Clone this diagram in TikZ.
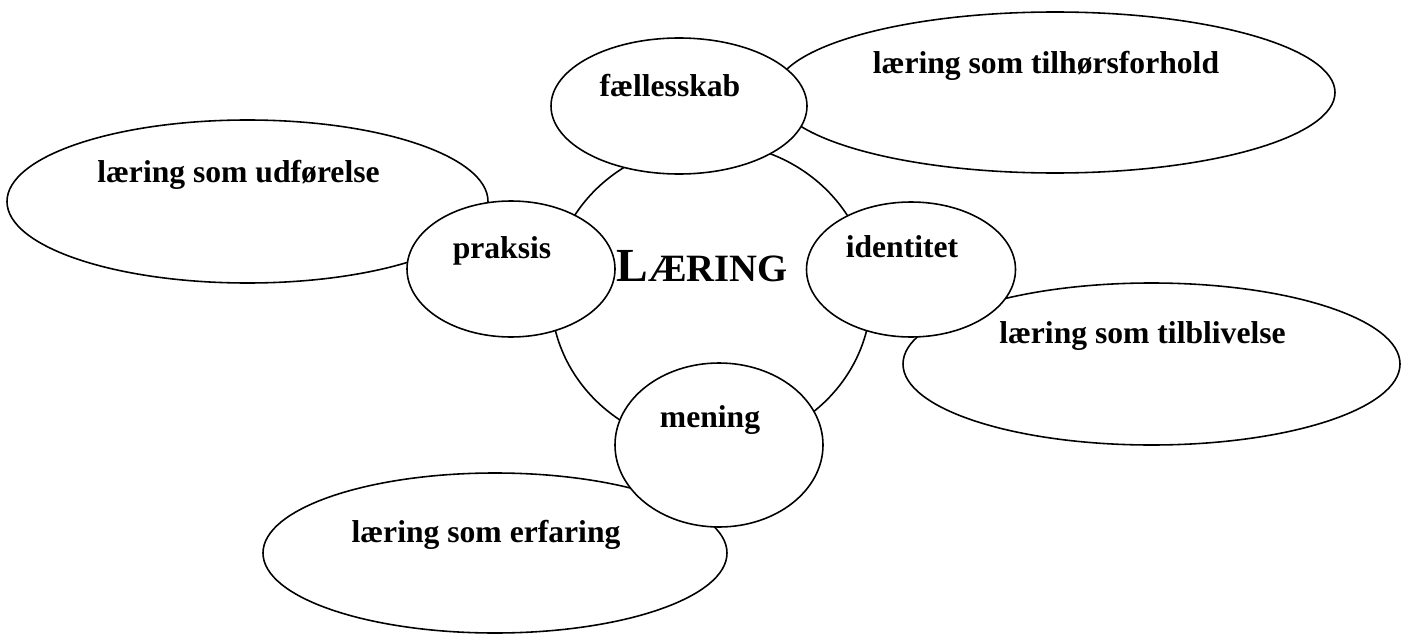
\documentclass[tikz,border=0pt]{standalone}
\usepackage{fontspec}
\setmainfont{Liberation Serif}
\usetikzlibrary{shapes.geometric}
\tikzset{%
    bubble/.style n args={3}{%
        ellipse, draw, fill=white, line width=0.9pt, inner sep=0pt,
        minimum width=#1, minimum height=#2,
        text height=0.5cm, text depth=#3,
        font=\bfseries\fontsize{18}{22}\selectfont,
        execute at end node={\kern0.36cm}
    }
}

\begin{document}
\begin{tikzpicture}

    \useasboundingbox (0, 0) rectangle (28.14, 12.66);

    % The centre
    \node[bubble={6.4cm}{6.08cm}{1.06cm}] (laering) at (14.22, 6.76)
        {\fontsize{27}{32}\selectfont L\fontsize{22}{26}\selectfont ÆRING};

    % Outer ellipses
    \node[bubble={11.2cm}{3.22cm}{1.28cm}] (tilhoer) at (21.10, 10.81)
        {læring som tilhørsforhold};
    \node[bubble={9.62cm}{3.26cm}{1.28cm}] (udfoer) at (4.95, 8.63)
        {læring som udførelse};
    \node[bubble={9.94cm}{3.24cm}{1.34cm}] (tilbliv) at (23.03, 5.38)
        {læring som tilblivelse};
    \node[bubble={9.28cm}{3.2cm}{0.94cm}] (erfar) at (9.90, 1.60)
        {læring som erfaring};

    % Inner ellipses
    \node[bubble={5.12cm}{2.72cm}{0.86cm}] (faelles) at (13.58, 10.54)
        {fællesskab};
    \node[bubble={4.16cm}{2.72cm}{0.94cm}] (praksis) at (10.22, 7.28)
        {praksis};
    \node[bubble={4.18cm}{2.7cm}{1.0cm}] (identitet) at (18.22, 7.27)
        {identitet};
    \node[bubble={4.16cm}{3.28cm}{1.22cm}] (mening) at (14.38, 3.76)
        {mening};

\end{tikzpicture}
\end{document}
